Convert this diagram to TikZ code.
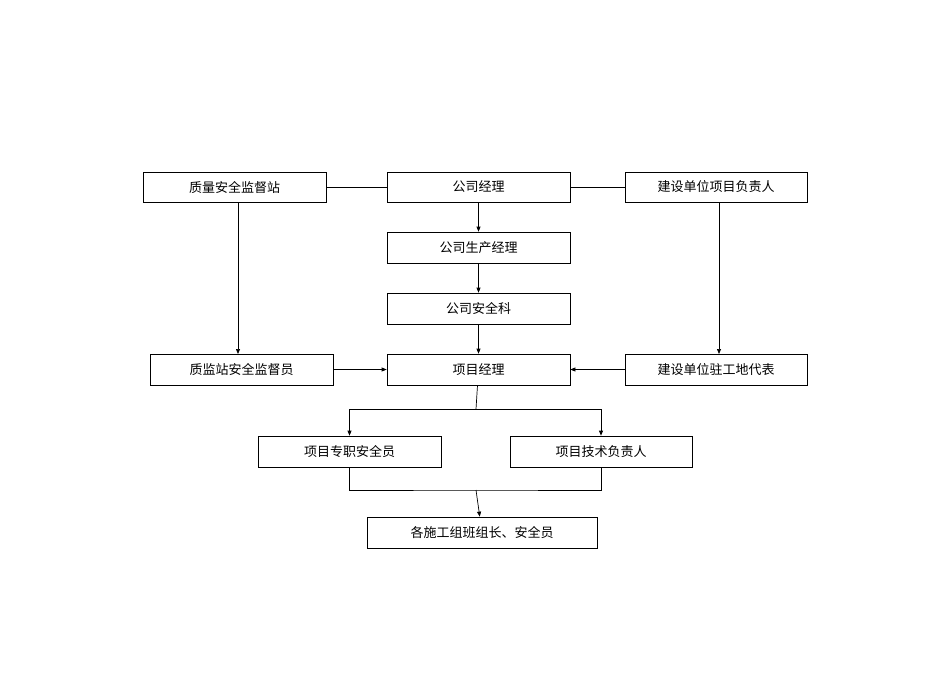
\documentclass[tikz,border=0pt]{standalone}
\usepackage{fontspec}
\newfontfamily\cjk{Noto Sans CJK SC}
\usetikzlibrary{arrows.meta}
\begin{document}
\begin{tikzpicture}[x=1pt,y=-1pt,
  bx/.style={draw,line width=0.7pt,inner sep=0pt,font=\cjk\fontsize{13}{15}\selectfont},
  ln/.style={line width=0.7pt},
  ar/.style={ln,-{Triangle[length=5pt,width=4pt]}}]
\useasboundingbox (0,0) rectangle (950,672);
\newcommand\bxat[6]{\node[bx,minimum width={#4-#2},minimum height={#5-#3}] (#1) at ({(#2+#4)/2},{(#3+#5)/2}) {#6};}
\bxat{a}{143}{172}{326}{202}{质量安全监督站}
\bxat{b}{387}{172}{570}{202}{公司经理}
\bxat{c}{625}{172}{807}{202}{建设单位项目负责人}
\bxat{d}{387}{232}{570}{263}{公司生产经理}
\bxat{e}{387}{293}{570}{324}{公司安全科}
\bxat{f}{150}{354}{333}{385}{质监站安全监督员}
\bxat{g}{387}{354}{570}{385}{项目经理}
\bxat{h}{625}{354}{807}{385}{建设单位驻工地代表}
\bxat{i}{258}{436}{441}{467}{项目专职安全员}
\bxat{j}{510}{436}{692}{467}{项目技术负责人}
\bxat{k}{367}{517}{597}{548}{各施工组班组长、安全员}
\draw[ln] (a) -- (b);
\draw[ln] (b) -- (c);
\draw[ar] (b) -- (d);
\draw[ar] (d) -- (e);
\draw[ar] (e) -- (g);
\draw[ar] (238,202) -- (238,354);
\draw[ar] (719,202) -- (719,354);
\draw[ar] (f) -- (g);
\draw[ar] (h) -- (g);
\coordinate (s) at (476,409);
\draw[ln] (g) -- (s);
\draw[ar] (s) -| (i.north);
\draw[ar] (s) -| (j.north);
\coordinate (t) at (476,490);
\draw[ln] (i.south) |- (t) -| (j.south);
\draw[ar] (t) -- (k);
\end{tikzpicture}
\end{document}
